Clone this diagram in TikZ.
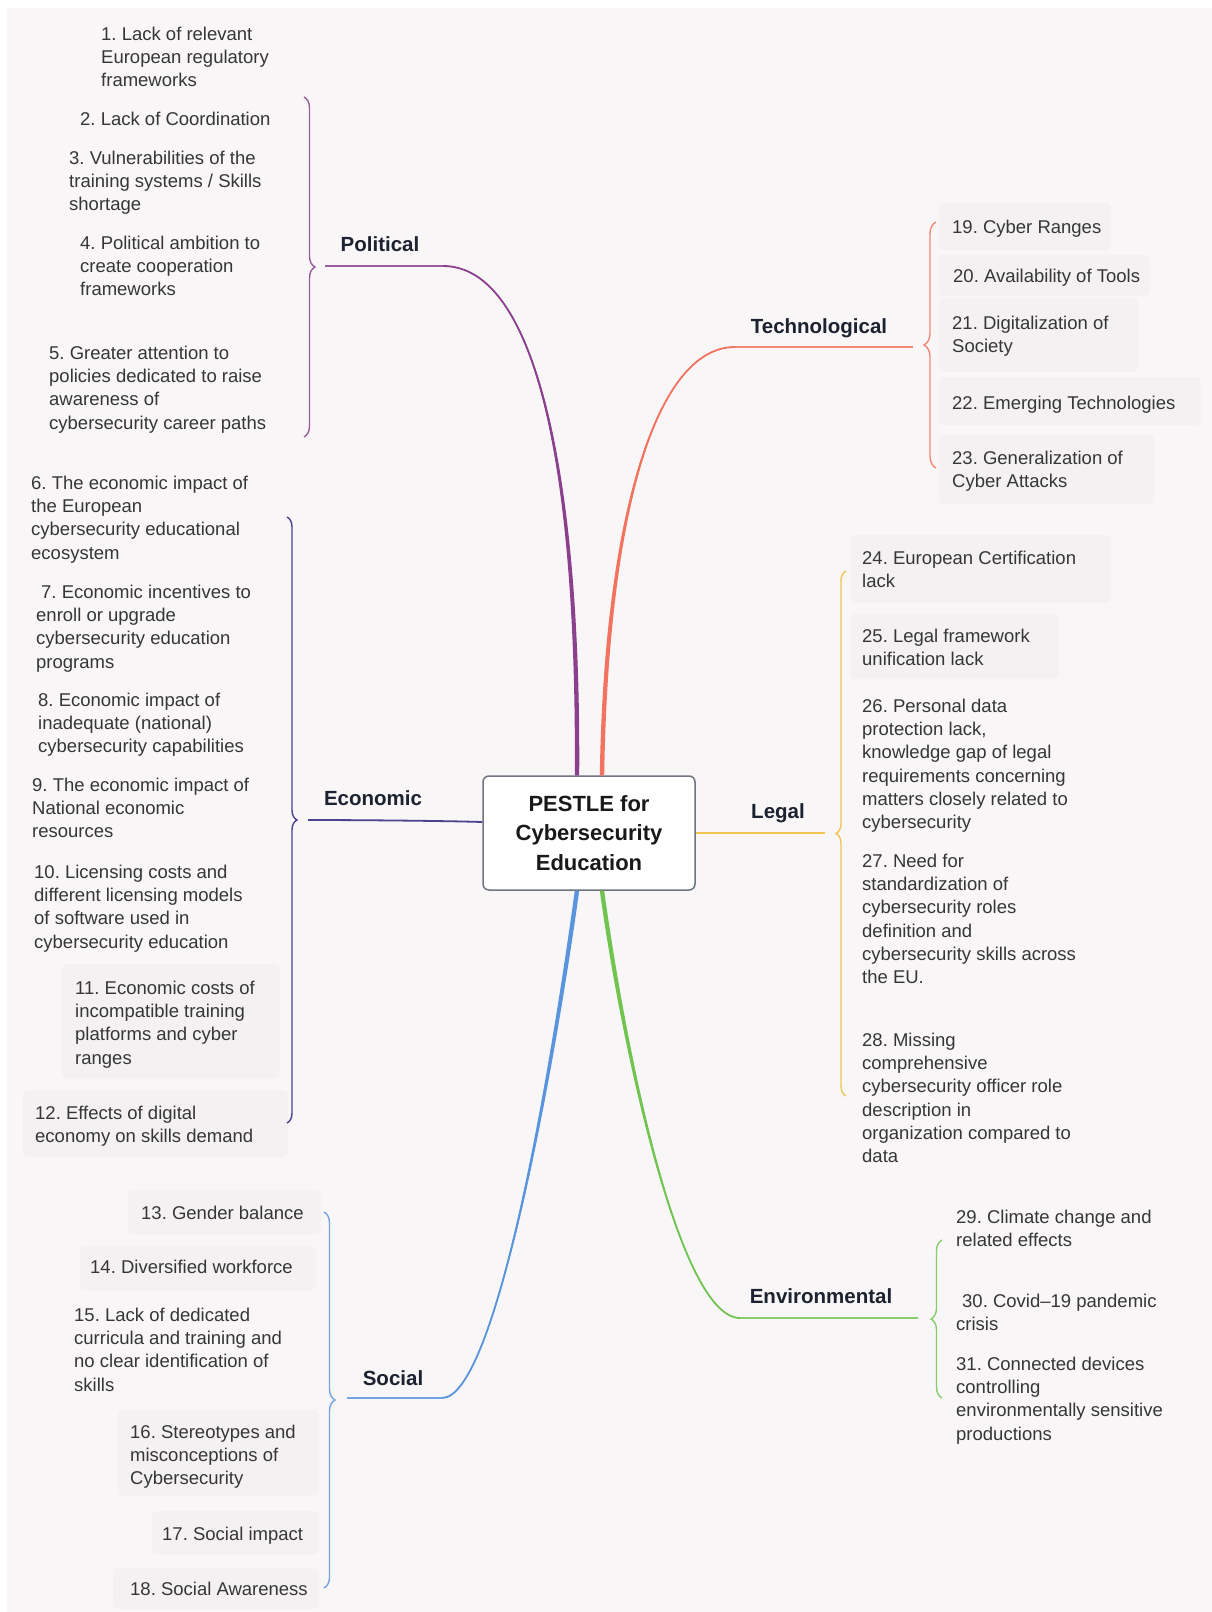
\documentclass[tikz,border=0pt]{standalone}
\usepackage{fontspec}
\setmainfont{Liberation Sans}
\usetikzlibrary{decorations.pathreplacing,calc}

\definecolor{bgcol}{HTML}{F8F6F6}
\definecolor{cardcol}{HTML}{F4F1F2}
\definecolor{itemtext}{HTML}{363636}
\definecolor{headtext}{HTML}{1C2230}
\definecolor{rootline}{HTML}{6E7480}
\definecolor{polcol}{HTML}{8B3F8C}
\definecolor{ecocol}{HTML}{4B4290}
\definecolor{soccol}{HTML}{5A93DE}
\definecolor{teccol}{HTML}{F2735F}
\definecolor{legcol}{HTML}{F4C453}
\definecolor{envcol}{HTML}{72C451}

\begin{document}
\frenchspacing
\begin{tikzpicture}[x=1pt,y=-1pt,
  item/.style={anchor=north west, inner sep=0pt, align=left, text=itemtext, yshift=-3.5pt,
    font=\fontsize{18.5}{23.3}\selectfont, execute at begin node=\strut},
  head/.style={anchor=base, inner sep=0pt, text=headtext,
    font=\bfseries\fontsize{20.5}{24}\selectfont},
  card/.style={fill=cardcol, rounded corners=5pt},
  trunk/.style={line width=1.8pt},
  twig/.style={line width=1.8pt},
  bracket/.style={decorate, decoration={brace, amplitude=#1}, line width=1.4pt},
  bracket/.default=11pt,
]
% canvas
\useasboundingbox (0,0) rectangle (1212,1612);
\fill[white] (0,0) rectangle (1212,1612);
\fill[bgcol] (7,8) rectangle (1212,1612);

% faint cards behind some items
\fill[card] (939,203) rectangle (1111,250);
\fill[card] (939,255) rectangle (1150,296);
\fill[card] (939,298) rectangle (1138,372);
\fill[card] (939,377) rectangle (1201,425);
\fill[card] (939,435) rectangle (1154,504);
\fill[card] (850,535) rectangle (1111,603);
\fill[card] (850,614) rectangle (1059,679);
\fill[card] (62,964) rectangle (280,1079);
\fill[card] (23,1090) rectangle (288,1157);
\fill[card] (128,1190) rectangle (321,1234);
\fill[card] (80,1246) rectangle (316,1290);
\fill[card] (118,1410) rectangle (319,1496);
\fill[card] (152,1511) rectangle (319,1554);
\fill[card] (113,1568) rectangle (319,1609);

% central topic
\node[draw=rootline, fill=white, line width=1.5pt, rounded corners=6pt,
      minimum width=212pt, minimum height=114pt, align=center,
      font=\bfseries\fontsize{22}{29.5}\selectfont, text=black!90]
  (root) at (589,833) {PESTLE for\\Cybersecurity\\Education};

% anchor points of the branches
\coordinate (pol-a) at ($(root.north)+(-12,0)$);
\coordinate (tec-a) at ($(root.north)+(13,0)$);
\coordinate (soc-a) at ($(root.south)+(-12,0)$);
\coordinate (env-a) at ($(root.south)+(13,0)$);
\coordinate (eco-a) at ($(root.west)+(0,-11)$);
\coordinate (leg-a) at (root.east);

\coordinate (pol-knee) at (443,266);
\coordinate (pol-end) at (325,266);
\coordinate (tec-knee) at (735,347);
\coordinate (tec-end) at (913,347);
\coordinate (env-knee) at (740,1318);
\coordinate (env-end) at (918,1318);
\coordinate (soc-knee) at (442,1398);
\coordinate (soc-end) at (347,1398);
\coordinate (eco-end) at (308,820);
\coordinate (leg-end) at (825,833);

% Political branch
\fill[polcol] ($(pol-a)+(-2.2,0)$) .. controls +(2,-306) and +(92,0) .. (pol-knee)
  .. controls +(92,0) and +(2,-306) .. ($(pol-a)+(2.2,0)$) -- cycle;
\draw[trunk, polcol] (pol-a) .. controls +(2,-306) and +(92,0) .. (pol-knee);
\draw[twig, polcol!85] (pol-knee) -- (pol-end);
\draw[bracket, polcol!85] (304,97) -- (304,437);

% Technological branch
\fill[teccol] ($(tec-a)+(-2.2,0)$) .. controls +(4,-256) and +(-80,0) .. (tec-knee)
  .. controls +(-80,0) and +(4,-256) .. ($(tec-a)+(2.2,0)$) -- cycle;
\draw[trunk, teccol] (tec-a) .. controls +(4,-256) and +(-80,0) .. (tec-knee);
\draw[twig, teccol!85] (tec-knee) -- (tec-end);
\draw[bracket=12pt, teccol!85] (936,468) -- (936,222);

% Legal branch
\draw[twig, legcol] (leg-a) -- (leg-end);
\draw[bracket=10pt, legcol] (846,1096) -- (846,571);

% Environmental branch
\fill[envcol] ($(env-a)+(-2.2,0)$) .. controls +(22,160) and +(-60,0) .. (env-knee)
  .. controls +(-60,0) and +(22,160) .. ($(env-a)+(2.2,0)$) -- cycle;
\draw[trunk, envcol] (env-a) .. controls +(22,160) and +(-60,0) .. (env-knee);
\draw[twig, envcol!85] (env-knee) -- (env-end);
\draw[bracket, envcol!85] (942,1398) -- (942,1240);

% Social branch
\fill[soccol] ($(soc-a)+(-2.2,0)$) .. controls +(-22,160) and +(55,0) .. (soc-knee)
  .. controls +(55,0) and +(-22,160) .. ($(soc-a)+(2.2,0)$) -- cycle;
\draw[trunk, soccol] (soc-a) .. controls +(-22,160) and +(55,0) .. (soc-knee);
\draw[twig, soccol!85] (soc-knee) -- (soc-end);
\draw[bracket, soccol!85] (324,1212) -- (324,1588);

% Economic branch
\draw[twig, ecocol] (eco-a) .. controls +(-30,-1) and +(60,0) .. (eco-end);
\draw[bracket=10pt, ecocol] (287,517) -- (287,1123);

% branch titles
\node[head] (h-pol) at (380,251) {Political};
\node[head] (h-tec) at (819,333) {Technological};
\node[head] (h-leg) at (778,818) {Legal};
\node[head] (h-env) at (821,1303) {Environmental};
\node[head] (h-soc) at (393,1385) {Social};
\node[head] (h-eco) at (373,805) {Economic};

% Political factors
\node[item] (p1) at (101,23) {1. Lack of relevant\\European regulatory\\frameworks};
\node[item] (p2) at (80,105) {2. Lack of Coordination};
\node[item] (p3) at (69,147) {3. Vulnerabilities of the\\training systems / Skills\\shortage};
\node[item] (p4) at (80,232) {4. Political ambition to\\create cooperation\\frameworks};
\node[item] (p5) at (49,342) {5. Greater attention to\\policies dedicated to raise\\awareness of\\cybersecurity career paths};

% Economic factors
\node[item] (e6) at (31,472) {6. The economic impact of\\the European\\cybersecurity educational\\ecosystem};
\node[item] (e7) at (36,581) {\hspace*{5pt}7. Economic incentives to\\enroll or upgrade\\cybersecurity education\\programs};
\node[item] (e8) at (38,689) {8. Economic impact of\\inadequate (national)\\cybersecurity capabilities};
\node[item] (e9) at (32,774) {9. The economic impact of\\National economic\\resources};
\node[item] (e10) at (34,861) {10. Licensing costs and\\different licensing models\\of software used in\\cybersecurity education};
\node[item] (e11) at (75,977) {11. Economic costs of\\incompatible training\\platforms and cyber\\ranges};
\node[item] (e12) at (35,1102) {12. Effects of digital\\economy on skills demand};

% Social factors
\node[item] (s13) at (141,1199) {13. Gender balance};
\node[item] (s14) at (90,1253) {14. Diversified workforce};
\node[item] (s15) at (74,1304) {15. Lack of dedicated\\curricula and training and\\no clear identification of\\skills};
\node[item] (s16) at (130,1421) {16. Stereotypes and\\misconceptions of\\Cybersecurity};
\node[item] (s17) at (162,1520) {17. Social impact};
\node[item] (s18) at (130,1575) {18. Social Awareness};

% Technological factors
\node[item] (t19) at (952,213) {19. Cyber Ranges};
\node[item] (t20) at (953,262) {20. Availability of Tools};
\node[item] (t21) at (952,312) {21. Digitalization of\\Society};
\node[item] (t22) at (952,389) {22. Emerging Technologies};
\node[item] (t23) at (952,447) {23. Generalization of\\Cyber Attacks};

% Legal factors
\node[item] (l24) at (862,547) {24. European Certification\\lack};
\node[item] (l25) at (862,625) {25. Legal framework\\unification lack};
\node[item] (l26) at (862,695) {26. Personal data\\protection lack,\\knowledge gap of legal\\requirements concerning\\matters closely related to\\cybersecurity};
\node[item] (l27) at (862,850) {27. Need for\\standardization of\\cybersecurity roles\\definition and\\cybersecurity skills across\\the EU.};
\node[item] (l28) at (862,1029) {28. Missing\\comprehensive\\cybersecurity officer role\\description in\\organization compared to\\data};

% Environmental factors
\node[item] (v29) at (956,1206) {29. Climate change and\\related effects};
\node[item] (v30) at (956,1290) {\hspace*{6pt}30. Covid–19 pandemic\\crisis};
\node[item] (v31) at (956,1353) {31. Connected devices\\controlling\\environmentally sensitive\\productions};
\end{tikzpicture}
\end{document}
